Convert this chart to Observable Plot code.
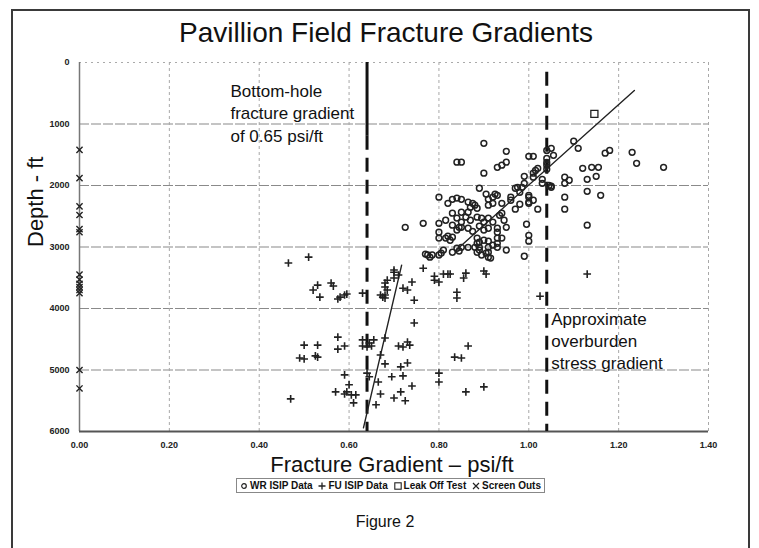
<!DOCTYPE html>
<html><head><meta charset="utf-8">
<script src="https://cdn.jsdelivr.net/npm/d3@7"></script>
<script src="https://cdn.jsdelivr.net/npm/@observablehq/plot@0.6"></script>
<style>
body{margin:0;background:#fff;font-family:"Liberation Sans",Arial,sans-serif;color:#111;}
#page{position:relative;width:759px;height:548px;overflow:hidden;background:#fff;}
#frame{position:absolute;left:11px;top:9px;width:739px;height:560px;border:2px solid #3a3a3a;box-sizing:border-box;}
#title{position:absolute;left:0;width:772px;top:17px;text-align:center;font-size:28px;line-height:32px;}
#chart{position:absolute;left:0;top:50px;}
#xlabel{position:absolute;left:0;width:784px;top:452px;text-align:center;font-size:22px;line-height:26px;}
#legend{position:absolute;left:236px;top:478px;width:309px;height:15px;border:1px solid #888;box-sizing:border-box;display:flex;align-items:center;justify-content:space-between;padding:0 3px;font-size:10px;font-weight:bold;line-height:13px;white-space:nowrap;}
#legend span{display:inline-flex;align-items:center;gap:2px;}
#fig{position:absolute;left:0;width:770px;top:512px;text-align:center;font-size:16px;line-height:19px;}
</style>
</head><body>
<div id="page">
  <div id="frame"></div>
  <div id="title">Pavillion Field Fracture Gradients</div>
  <div id="chart"></div>
  <div id="xlabel">Fracture Gradient – psi/ft</div>
  <div id="legend"></div>
  <div id="fig">Figure 2</div>
</div>
<script>
const xTicks = [0, 0.2, 0.4, 0.6, 0.8, 1.0, 1.2, 1.4];
const yTicks = [0, 1000, 2000, 3000, 4000, 5000, 6000];

// WR ISIP data: [fracture gradient psi/ft, depth ft]
const wrIsip = [
 [0.90,1315],[0.95,1445],[0.84,1620],[0.85,1620],[0.90,1800],[0.93,1705],[0.94,1670],[0.95,1620],
 [1.00,1525],[1.01,1525],[1.04,1430],[1.05,1395],[1.055,1510],[1.04,1560],[1.04,1625],[1.10,1280],
 [1.11,1395],[1.17,1475],[1.18,1430],[1.23,1460],[1.24,1640],[1.30,1705],[1.12,1720],[1.14,1705],
 [1.155,1705],[1.15,1850],[1.13,1900],[1.13,2095],[1.16,2160],[1.08,1865],[1.09,1915],[1.08,1965],
 [1.08,2190],[1.08,2385],[1.13,2645],[0.99,1850],[1.01,1800],[1.015,1755],[1.01,1865],[1.03,1900],
 [1.03,1965],[1.05,2010],[1.04,1735],[0.975,2030],[0.985,2030],[0.99,1965],[0.89,2045],[1.00,2160],
 [1.00,2270],[0.98,2305],[0.97,2385],[1.02,2385],[0.995,2630],[1.00,2810],[1.00,2905],[0.99,3150],
 [1.02,1720],[1.045,2000],[1.05,2030],[0.97,2045],[0.98,2110],[0.80,2190],[0.82,2290],[0.83,2225],
 [0.84,2205],[0.85,2225],[0.905,2140],[0.92,2190],[0.925,2140],[0.93,2160],[0.91,2225],[0.92,2290],
 [0.94,2290],[0.865,2270],[0.875,2290],[0.88,2320],[0.885,2370],[0.87,2355],[0.91,2320],[0.96,2240],
 [0.96,2190],[1.00,2190],[1.00,2290],[1.01,2240],[0.94,2450],[0.935,2485],[0.945,2565],[0.83,2450],
 [0.85,2435],[0.865,2435],[0.86,2515],[0.87,2565],[0.84,2530],[0.85,2595],[0.885,2515],[0.895,2530],
 [0.91,2530],[0.92,2595],[0.90,2595],[0.725,2680],[0.765,2615],[0.80,2615],[0.815,2565],[0.83,2645],
 [0.845,2680],[0.85,2680],[0.865,2695],[0.875,2745],[0.84,2725],[0.80,2760],[0.80,2855],[0.815,2855],
 [0.82,2825],[0.825,2890],[0.83,2840],[0.89,2660],[0.90,2725],[0.91,2695],[0.93,2695],[0.93,2760],
 [0.95,2680],[0.885,2855],[0.89,2920],[0.90,2890],[0.91,2905],[0.885,2940],[0.93,2855],[0.94,2855],
 [0.93,2940],[0.84,3020],[0.85,3005],[0.865,3005],[0.88,3005],[0.89,3005],[0.91,3005],[0.92,2970],
 [0.93,3005],[0.95,3050],[0.81,3050],[0.805,3100],[0.77,3115],[0.78,3165],[0.785,3130],[0.83,3085],
 [0.845,3065],[0.89,3050],[0.895,3130],[0.91,3165],[0.915,3180],[0.91,3085],[0.905,3100],[0.885,3085],
 [0.775,3130],[0.80,3130],[1.04,1670]
];

// FU ISIP data: [fracture gradient psi/ft, depth ft]
const fuIsip = [
 [0.465,3260],[0.51,3165],[0.53,3620],[0.52,3700],[0.535,3815],[0.56,3585],[0.565,3635],[0.575,3845],
 [0.58,3815],[0.59,3780],[0.595,3765],[0.63,3750],[0.67,3780],[0.675,3815],[0.68,3780],[0.685,3700],
 [0.68,3585],[0.685,3540],[0.70,3410],[0.71,3455],[0.70,3505],[0.70,3375],[0.72,3670],[0.73,3700],
 [0.74,3570],[0.745,3865],[0.765,3345],[0.745,4235],[0.79,3475],[0.79,3540],[0.80,3570],[0.81,3440],
 [0.82,3440],[0.825,3440],[0.86,3425],[0.855,3505],[0.84,3735],[0.84,3830],[0.90,3390],[0.905,3440],
 [1.025,3800],[1.13,3440],[0.68,3650],[0.68,3830],
 [0.575,4465],[0.575,4660],[0.59,4610],[0.53,4595],[0.50,4595],[0.49,4805],[0.50,4820],[0.525,4770],
 [0.53,4790],[0.63,4510],[0.63,4610],[0.64,4625],[0.65,4610],[0.655,4510],[0.645,4560],[0.68,4480],
 [0.67,4755],[0.68,4900],[0.71,4610],[0.72,4625],[0.73,4545],[0.735,4595],[0.715,4950],[0.73,4885],
 [0.59,5080],[0.60,5240],[0.595,5355],[0.57,5355],[0.59,5390],[0.605,5405],[0.615,5405],[0.61,5535],
 [0.47,5470],[0.645,5110],[0.665,5195],[0.67,5390],[0.66,5565],[0.695,5110],[0.72,5095],[0.74,5260],
 [0.715,5355],[0.70,5455],[0.725,5500],[0.865,4610],[0.835,4790],[0.85,4805],[0.80,5050],[0.80,5195],
 [0.86,5355],[0.90,5275],[0.64,5050]
];

const leakOff = [[1.146, 835]];
const screenOutDepths = [1420,1880,2340,2480,2710,2760,3450,3530,3600,3650,3700,3750,5000,5300];

const trendUpper = [[0.84,3040],[1.235,455]];
const trendLower = [[0.632,5940],[0.717,3295]];
const bottomHoleGradient = 0.64;
const overburdenGradient = 1.04;

const annotations = [
  {x: 0.336, depth: 811, text: "Bottom-hole\nfracture gradient\nof 0.65 psi/ft"},
  {x: 1.05, depth: 4512, text: "Approximate\noverburden\nstress gradient"}
];
const legendLabels = ["WR ISIP Data", "FU ISIP Data", "Leak Off Test", "Screen Outs"];

const screenOuts = screenOutDepths.map(d => [0, d]);
const px = d => d[0], py = d => d[1];

const plot = Plot.plot({
  width: 759, height: 410,
  marginLeft: 79, marginRight: 51, marginTop: 12, marginBottom: 29,
  style: {fontFamily: "'Liberation Sans Narrow','Liberation Sans',Arial,sans-serif", fontSize: "9px", fontWeight: "bold", color: "#222", background: "transparent"},
  x: {domain: [0, 1.4], ticks: xTicks, tickFormat: d3.format(".2f"), tickSize: 0, tickPadding: 10, label: null},
  y: {domain: [0, 6000], reverse: true, ticks: yTicks, tickFormat: d3.format("d"), tickSize: 0, tickPadding: 10, label: null},
  marks: [
    Plot.ruleY(yTicks.filter(d => d > 0 && d < 6000), {stroke: "#8a8a8a", strokeWidth: 1.2, strokeDasharray: "10,2"}),
    Plot.ruleY([0], {stroke: "#aaa", strokeDasharray: "2,4"}),
    Plot.ruleX(xTicks.filter(d => d > 0), {stroke: "#a8a8a8", strokeDasharray: "3,3"}),
    Plot.ruleX([0], {stroke: "#777", strokeWidth: 1.5}),
    Plot.ruleY([6000], {stroke: "#555", strokeWidth: 2}),
    Plot.ruleX([bottomHoleGradient], {y1: 0, y2: 1200, stroke: "#111", strokeWidth: 3}),
    Plot.ruleX([bottomHoleGradient], {y1: 1200, y2: 6000, stroke: "#111", strokeWidth: 3, strokeDasharray: "14,8"}),
    Plot.ruleX([overburdenGradient], {y1: 160, y2: 6000, stroke: "#111", strokeWidth: 3, strokeDasharray: "14,8"}),
    Plot.line(trendUpper, {x: px, y: py, stroke: "#222", strokeWidth: 1.4}),
    Plot.line(trendLower, {x: px, y: py, stroke: "#222", strokeWidth: 1.4}),
    Plot.dot(wrIsip, {x: px, y: py, r: 2.9, stroke: "#222", strokeWidth: 1.5, fill: "none"}),
    Plot.dot(fuIsip, {x: px, y: py, symbol: "plus", r: 2.6, stroke: "#222", strokeWidth: 1.6}),
    Plot.dot(leakOff, {x: px, y: py, symbol: "square", r: 4, stroke: "#222", strokeWidth: 1.3, fill: "none"}),
    Plot.dot(screenOuts, {x: px, y: py, symbol: "times", r: 2.9, stroke: "#222", strokeWidth: 1.4}),
    Plot.text(annotations, {x: "x", y: "depth", text: "text", textAnchor: "start", lineAnchor: "middle", lineHeight: 1.3, fontSize: 17, fontWeight: "normal", fontFamily: "'Liberation Sans',Arial,sans-serif", fill: "#111"}),
    Plot.text(["Depth - ft"], {frameAnchor: "left", dx: -44, rotate: -90, fontSize: 22, fontWeight: "normal", fontFamily: "'Liberation Sans',Arial,sans-serif", fill: "#111"})
  ]
});
document.getElementById("chart").appendChild(plot);

// legend
const sym = {
  "WR ISIP Data": '<circle cx="4" cy="4" r="2.3" fill="none" stroke="#222" stroke-width="1.2"/>',
  "FU ISIP Data": '<path d="M4 0.5V7.5M0.5 4H7.5" stroke="#222" stroke-width="1.3"/>',
  "Leak Off Test": '<rect x="0.8" y="0.8" width="6.4" height="6.4" fill="none" stroke="#222" stroke-width="1.1"/>',
  "Screen Outs": '<path d="M1 1L7 7M7 1L1 7" stroke="#222" stroke-width="1.2"/>'
};
const lg = document.getElementById("legend");
legendLabels.forEach(l => {
  const s = document.createElement("span");
  s.innerHTML = '<svg width="8" height="8" viewBox="0 0 8 8">' + sym[l] + '</svg>' + l;
  lg.appendChild(s);
});
</script>
</body></html>
